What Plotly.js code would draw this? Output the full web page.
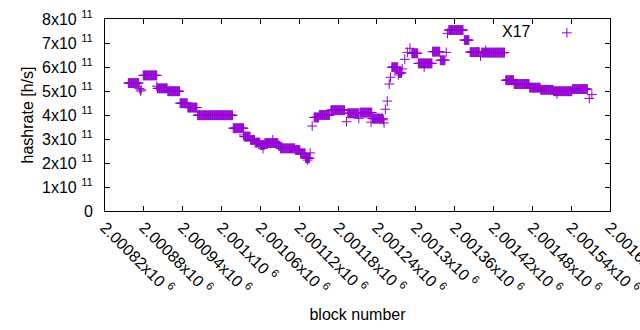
<!DOCTYPE html>
<html>
<head>
<meta charset="utf-8">
<script src="https://cdn.plot.ly/plotly-3.0.1.min.js"></script>
<style>html,body{margin:0;padding:0;background:#fff;}#chart{width:640px;height:330px;}</style>
</head>
<body>
<div id="chart"></div>
<script>
// Plateaus of constant hashrate (block range, value in units of 1e11 h/s)
const plateauStart = [2000856, 2000879, 2000901, 2000917, 2000936, 2000948, 2000963, 2001018, 2001035, 2001045, 2001052, 2001060, 2001067, 2001088, 2001091, 2001114, 2001122, 2001130, 2001143, 2001151, 2001169, 2001195, 2001214, 2001233, 2001263, 2001274, 2001294, 2001304, 2001326, 2001338, 2001351, 2001375, 2001384, 2001402, 2001439, 2001452, 2001476, 2001493, 2001513, 2001542];
const plateauEnd   = [2000872, 2000900, 2000916, 2000935, 2000947, 2000962, 2001017, 2001034, 2001044, 2001051, 2001059, 2001066, 2001087, 2001090, 2001113, 2001121, 2001129, 2001136, 2001150, 2001167, 2001190, 2001212, 2001232, 2001249, 2001272, 2001278, 2001303, 2001325, 2001337, 2001345, 2001373, 2001382, 2001398, 2001437, 2001451, 2001475, 2001492, 2001512, 2001541, 2001565];
const plateauValue = [5.33, 5.65, 5.11, 4.99, 4.49, 4.31, 3.99, 3.45, 3.10, 2.96, 2.85, 2.75, 2.83, 2.72, 2.61, 2.54, 2.40, 2.20, 3.90, 4.00, 4.20, 4.07, 4.10, 3.85, 5.99, 5.75, 6.57, 6.15, 6.64, 6.28, 7.54, 7.12, 6.62, 6.60, 5.45, 5.29, 5.14, 5.05, 4.99, 5.08];
// Isolated blocks
const singleBlock = [2000873, 2000875, 2000876, 2000900, 2001034, 2001064, 2001079, 2001133, 2001137, 2001140, 2001193, 2001212, 2001231, 2001250, 2001251, 2001253, 2001256, 2001259, 2001261, 2001273, 2001279, 2001283, 2001287, 2001291, 2001313, 2001347, 2001349, 2001400, 2001408, 2001518, 2001568, 2001572];
const singleValue = [5.10, 5.00, 5.05, 5.20, 3.17, 2.61, 2.96, 2.12, 2.42, 3.54, 3.72, 3.86, 3.70, 3.80, 3.67, 4.24, 4.58, 5.29, 5.57, 5.67, 5.92, 6.32, 6.61, 6.78, 6.00, 6.61, 7.40, 6.46, 6.70, 4.88, 4.69, 4.85];

const seriesName = "X17";
const xTickVals = [2000820, 2000880, 2000940, 2001000, 2001060, 2001120, 2001180, 2001240, 2001300, 2001360, 2001420, 2001480, 2001540, 2001600];
const xTickMant = ["2.00082", "2.00088", "2.00094", "2.001", "2.00106", "2.00112", "2.00118", "2.00124", "2.0013", "2.00136", "2.00142", "2.00148", "2.00154", "2.0016"];
const yTickVals = [0, 1e11, 2e11, 3e11, 4e11, 5e11, 6e11, 7e11, 8e11];
const yTickMant = ["0", "1", "2", "3", "4", "5", "6", "7", "8"];

const xs = [], ys = [];
for (let i = 0; i < plateauStart.length; i++) {
  for (let b = plateauStart[i]; b <= plateauEnd[i]; b++) { xs.push(b); ys.push(plateauValue[i] * 1e11); }
}
for (let i = 0; i < singleBlock.length; i++) { xs.push(singleBlock[i]); ys.push(singleValue[i] * 1e11); }

const FONT = "Liberation Sans, Arial, sans-serif";
const purple = "#9400d3";

const trace = {
  x: xs, y: ys, type: "scatter", mode: "markers", name: "",
  marker: {symbol: "cross-thin-open", size: 7, color: purple, line: {color: purple, width: 1}},
  showlegend: true
};

const layout = {
  width: 640, height: 330,
  margin: {l: 105, r: 30, t: 19, b: 119},
  paper_bgcolor: "#fff", plot_bgcolor: "#fff",
  font: {family: FONT, size: 16, color: "#000"},
  showlegend: true,
  legend: {
    x: 0.875, xanchor: "left", y: 1.016, yanchor: "top",
    bgcolor: "rgba(0,0,0,0)", borderwidth: 0,
    font: {family: FONT, size: 16}
  },
  annotations: [{
    text: seriesName, xref: "paper", yref: "paper",
    x: 0.8475, xanchor: "right", y: 0.9375, yanchor: "middle",
    showarrow: false, font: {family: FONT, size: 16, color: "#000"}
  }],
  xaxis: {
    range: [2000820, 2001600],
    tickmode: "array", tickvals: xTickVals,
    ticktext: xTickMant.map(m => m + "x10 <sup>6</sup>"),
    tickangle: 45, ticklabeloverflow: "allow",
    ticks: "inside", ticklen: 5, tickcolor: "#000",
    showline: true, linecolor: "#000", linewidth: 1, mirror: "allticks",
    showgrid: false, zeroline: false,
    tickfont: {family: FONT, size: 16},
    title: {text: "block number", font: {family: FONT, size: 16}, standoff: 12}
  },
  yaxis: {
    range: [0, 8e11],
    tickmode: "array", tickvals: yTickVals,
    ticktext: yTickMant.map(m => m === "0" ? "0" : m + "x10 <sup>11</sup>"),
    ticks: "inside", ticklen: 5, tickcolor: "#000",
    showline: true, linecolor: "#000", linewidth: 1, mirror: "allticks",
    showgrid: false, zeroline: false,
    tickfont: {family: FONT, size: 16},
    ticklabelstandoff: 8,
    title: {text: "hashrate [h/s]", font: {family: FONT, size: 16}, standoff: 4}
  }
};

Plotly.newPlot("chart", [trace], layout, {displayModeBar: false, staticPlot: true});
</script>
</body>
</html>
